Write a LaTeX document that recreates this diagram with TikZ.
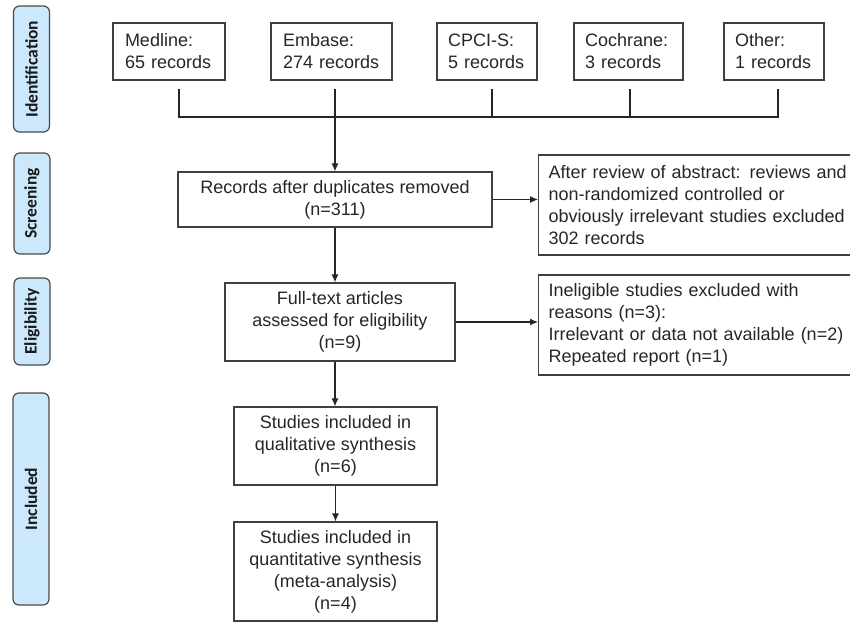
\documentclass[tikz,border=0pt]{standalone}
\usepackage{fontspec}
\setmainfont{Liberation Sans}
\newfontfamily\labelfont{Carlito}
\usetikzlibrary{arrows.meta}
\definecolor{boxline}{HTML}{404040}
\definecolor{labelfill}{HTML}{CCE8FC}
\definecolor{labelline}{HTML}{4A4A4A}
\begin{document}
\begin{tikzpicture}[x=1pt,y=-1pt,
  every node/.style={font=\fontsize{18}{22}\selectfont, text=black!85},
  flowbox/.style={draw=boxline, line width=1.3pt, rectangle, inner sep=0pt, align=center},
  leftbox/.style={draw=boxline, line width=1.3pt, rectangle, inner sep=0pt, align=left},
  phase/.style={draw=labelline, fill=labelfill, line width=1.2pt, rounded corners=6pt, inner sep=0pt,
     minimum width=36pt},
  phasetext/.style={rotate=90, font=\labelfont\bfseries\fontsize{17.5}{20}\selectfont, text=black!90},
  conn/.style={draw=black!85, line width=1.1pt},
  arr/.style={conn, -{Latex[length=8pt,width=7pt]}}
]
\useasboundingbox (0,0) rectangle (850,622);

% phase labels
\node[phase, minimum height=126pt] (pid) at (31.5,69) {};
\node[phasetext] (tid) at (pid.center) {Identification};
\node[phase, minimum height=101pt] (psc) at (32,203.5) {};
\node[phasetext] (tsc) at (psc.center) {Screening};
\node[phase, minimum height=87pt] (pel) at (32,321.5) {};
\node[phasetext] (tel) at (pel.center) {Eligibility};
\node[phase, minimum height=212pt] (pin) at (31,499) {};
\node[phasetext] (tin) at (pin.center) {Included};

% top boxes
\node[leftbox, minimum width=112pt, minimum height=57pt, text width=88pt] (med) at (169,51.5) {Medline:\\65 records};
\node[leftbox, minimum width=121pt, minimum height=57pt, text width=97pt] (emb) at (331.5,51.5) {Embase:\\274 records};
\node[leftbox, minimum width=100pt, minimum height=57pt, text width=78pt] (cpc) at (487,51.5) {CPCI-S:\\5 records};
\node[leftbox, minimum width=109pt, minimum height=57pt, text width=87pt] (coc) at (628.5,51.5) {Cochrane:\\3 records};
\node[leftbox, minimum width=100pt, minimum height=57pt, text width=78pt] (oth) at (774,51.5) {Other:\\1 records};

% main flow
\node[flowbox, minimum width=314pt, minimum height=55pt] (rec) at (335,199.5) {Records after duplicates removed\\(n=311)};
\node[leftbox, minimum width=314pt, minimum height=100pt, text width=294pt, anchor=west] (ex1) at (538,205)
  {\mbox{After review of abstract: reviews and}\\\mbox{non-randomized controlled or}\\\mbox{obviously irrelevant studies excluded}\\\mbox{302 records}};
\node[flowbox, minimum width=230pt, minimum height=78pt] (full) at (340,322) {Full-text articles\\assessed for eligibility\\(n=9)};
\node[leftbox, minimum width=314pt, minimum height=100pt, text width=294pt, anchor=west] (ex2) at (538,325)
  {\mbox{Ineligible studies excluded with}\\\mbox{reasons (n=3):}\\\mbox{Irrelevant or data not available (n=2)}\\\mbox{Repeated report (n=1)}};
\node[flowbox, minimum width=203pt, minimum height=78pt] (qual) at (335.5,446) {Studies included in\\qualitative synthesis\\(n=6)};
\node[flowbox, minimum width=203pt, minimum height=99pt] (quant) at (335.5,571.5) {Studies included in\\quantitative synthesis\\(meta-analysis)\\(n=4)};

% collector lines
\coordinate (dm) at (179,89);
\coordinate (de) at (335,89);
\coordinate (dc) at (492,89);
\coordinate (dk) at (630,89);
\coordinate (do) at (778,89);
\coordinate (hm) at (179,117);
\coordinate (ho) at (778,117);
\draw[conn] (dm) -- (hm) -- (ho) -- (do);
\draw[conn] (dc) -- (dc |- hm);
\draw[conn] (dk) -- (dk |- hm);
\draw[arr] (de) -- (de |- rec.north);

\draw[arr] (rec.east) -- (rec.east -| ex1.west);
\draw[arr] (rec.south) -- (rec.south |- full.north);
\draw[arr] (full.east) -- (full.east -| ex2.west);
\draw[arr] (rec.south |- full.south) -- (rec.south |- qual.north);
\draw[arr] (qual.south) -- (quant.north);
\end{tikzpicture}
\end{document}
